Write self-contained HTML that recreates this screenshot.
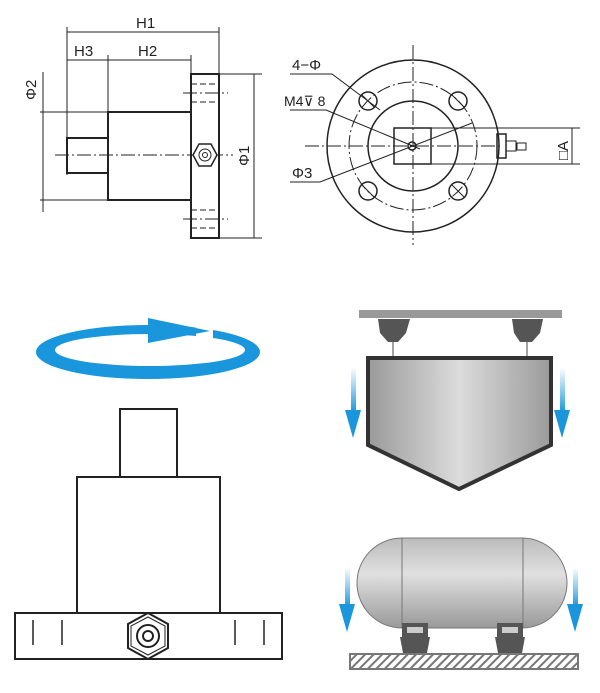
<!DOCTYPE html><html><head><style>body{margin:0;background:#fff}</style></head><body>
<svg width="600" height="688" viewBox="0 0 600 688" xmlns="http://www.w3.org/2000/svg" font-family="Liberation Sans, sans-serif">
<defs>
<linearGradient id="g" x1="0" x2="1"><stop offset="0" stop-color="#9a9a9a"/><stop offset="0.5" stop-color="#dcdcdc"/><stop offset="1" stop-color="#9a9a9a"/></linearGradient>
<linearGradient id="gt" x1="0" y1="0" x2="0" y2="1"><stop offset="0" stop-color="#bbb"/><stop offset="0.4" stop-color="#e0e0e0"/><stop offset="1" stop-color="#999"/></linearGradient>
<linearGradient id="ab" x1="0" y1="0" x2="0" y2="1"><stop offset="0" stop-color="#2aa0e0" stop-opacity="0"/><stop offset="1" stop-color="#1a96dc"/></linearGradient>
<pattern id="h" width="6" height="6" patternUnits="userSpaceOnUse" patternTransform="rotate(45)"><rect width="6" height="6" fill="#fff"/><rect width="2" height="6" fill="#777"/></pattern>
</defs>
<g stroke="#222" fill="none" stroke-width="1">
<line x1="67" y1="27" x2="67" y2="175"/><line x1="219" y1="27" x2="219" y2="74"/><line x1="108" y1="55" x2="108" y2="112"/><line x1="191" y1="55" x2="191" y2="74"/>
<line x1="67" y1="32" x2="219" y2="32"/><line x1="67" y1="60" x2="191" y2="60"/>
<rect x="191" y="74" width="28" height="164" stroke-width="2"/>
<rect x="108" y="112" width="83" height="88" stroke-width="2"/>
<rect x="67" y="138" width="41" height="35" stroke-width="2"/>
<line x1="55" y1="155" x2="233" y2="155" stroke-dasharray="14,3,2,3"/>
<line x1="183" y1="93" x2="228" y2="93" stroke-dasharray="14,3,2,3"/><line x1="183" y1="219" x2="228" y2="219" stroke-dasharray="14,3,2,3"/>
<line x1="191" y1="84" x2="219" y2="84" stroke-dasharray="6,3"/><line x1="191" y1="102" x2="219" y2="102" stroke-dasharray="6,3"/>
<line x1="191" y1="210" x2="219" y2="210" stroke-dasharray="6,3"/><line x1="191" y1="228" x2="219" y2="228" stroke-dasharray="6,3"/>
<polygon points="199,144 211,144 217,155 211,166 199,166 193,155" stroke-width="1.5" fill="#fff"/><circle cx="205" cy="155" r="6"/><circle cx="205" cy="155" r="2.5"/>
<line x1="219" y1="74" x2="262" y2="74"/><line x1="219" y1="238" x2="262" y2="238"/><line x1="254" y1="74" x2="254" y2="238"/>
<line x1="40" y1="112" x2="108" y2="112"/><line x1="40" y1="200" x2="108" y2="200"/><line x1="43" y1="72" x2="43" y2="212"/>
<line x1="413" y1="45" x2="413" y2="245" stroke-dasharray="14,3,2,3"/><line x1="305" y1="146" x2="500" y2="146" stroke-dasharray="14,3,2,3"/>
<circle cx="413" cy="146" r="86" stroke-width="1.5"/><circle cx="413" cy="146" r="64" stroke-dasharray="14,3,2,3"/><circle cx="413" cy="146" r="45" stroke-width="1.5"/>
<rect x="394" y="128" width="37" height="36" stroke-width="1.5"/><circle cx="412" cy="146" r="4" stroke-width="1.5"/>
<circle cx="368" cy="101" r="9" stroke-width="1.5"/><circle cx="458" cy="101" r="9" stroke-width="1.5"/><circle cx="368" cy="191" r="9" stroke-width="1.5"/><circle cx="458" cy="191" r="9" stroke-width="1.5"/>
<line x1="362" y1="95" x2="374" y2="107"/><line x1="452" y1="95" x2="464" y2="107"/><line x1="362" y1="185" x2="374" y2="197"/><line x1="452" y1="185" x2="464" y2="197"/>
<rect x="497" y="134" width="9" height="24" stroke-width="1.5"/><rect x="506" y="141" width="10" height="10"/><rect x="517" y="143" width="9" height="7"/>
<line x1="413" y1="128" x2="580" y2="128"/><line x1="413" y1="164" x2="580" y2="164"/><line x1="572" y1="128" x2="572" y2="164"/>
<polyline points="290,74 332,74 380,110"/><polyline points="290,110 326,110 420,149"/><polyline points="290,182 320,182 472,123"/>
</g>
<g font-size="15" fill="#222">
<text x="136" y="28">H1</text><text x="74" y="56">H3</text><text x="138" y="56">H2</text>
<text transform="translate(36,100) rotate(-90)">Φ2</text><text transform="translate(249,166) rotate(-90)">Φ1</text>
<text x="292" y="70">4−Φ</text><text x="284" y="106" font-size="14">M4⊽ 8</text><text x="292" y="178">Φ3</text>
<text transform="translate(568,160) rotate(-90)">□A</text>
</g>
<path fill-rule="evenodd" fill="#1a96dc" d="M36,352 a112,27 0 1 0 224,0 a112,27 0 1 0 -224,0 Z M55,350 a95,16 0 1 0 190,0 a95,16 0 1 0 -190,0 Z"/>
<polygon points="196,320 213,320 213,338 196,338" fill="#fff"/>
<polygon points="148,318 210,331 148,343" fill="#1a96dc"/>
<g stroke="#222" fill="none" stroke-width="2">
<rect x="120" y="409" width="57" height="68"/><rect x="77" y="477" width="143" height="136"/><rect x="15" y="613" width="267" height="46"/>
<g stroke-width="1.5"><line x1="33" y1="620" x2="33" y2="645"/><line x1="62" y1="620" x2="62" y2="645"/><line x1="235" y1="620" x2="235" y2="645"/><line x1="264" y1="620" x2="264" y2="645"/></g>
<polygon points="148,613 168,624 168,648 148,659 128,648 128,624" fill="#fff"/><polygon points="148,617 165,626 165,646 148,655 131,646 131,626" stroke-width="1"/><circle cx="148" cy="636" r="11"/><circle cx="148" cy="636" r="5"/>
</g>
<rect x="359" y="310" width="203" height="8" fill="#999"/>
<polygon points="378,319 410,319 406,333 398,342 388,342 380,333" fill="#555"/><polygon points="512,319 543,319 540,333 532,342 520,342 514,333" fill="#555"/>
<line x1="393" y1="342" x2="393" y2="357" stroke="#444"/><line x1="527" y1="342" x2="527" y2="357" stroke="#444"/>
<polygon points="368,358 551,358 551,445 459,489 368,445" fill="url(#g)" stroke="#333" stroke-width="4"/>
<rect x="351" y="367" width="5" height="45" fill="url(#ab)"/><polygon points="345,410 361,410 353,438" fill="#1a96dc"/>
<rect x="560" y="367" width="5" height="45" fill="url(#ab)"/><polygon points="554,410 570,410 562,438" fill="#1a96dc"/>
<rect x="357" y="538" width="210" height="90" rx="45" fill="url(#gt)" stroke="#777"/>
<line x1="402" y1="538" x2="402" y2="628" stroke="#777"/><line x1="523" y1="538" x2="523" y2="628" stroke="#777"/>
<rect x="402" y="623" width="26" height="14" fill="#555"/><rect x="407" y="627" width="16" height="6" fill="#ccc"/><polygon points="400,637 430,637 427,653 403,653" fill="#555"/>
<rect x="497" y="623" width="26" height="14" fill="#555"/><rect x="502" y="627" width="16" height="6" fill="#ccc"/><polygon points="495,637 525,637 522,653 498,653" fill="#555"/>
<rect x="350" y="654" width="228" height="15" fill="url(#h)" stroke="#777" stroke-width="2"/>
<rect x="345" y="567" width="5" height="40" fill="url(#ab)"/><polygon points="339,604 355,604 347,632" fill="#1a96dc"/>
<rect x="573" y="567" width="5" height="40" fill="url(#ab)"/><polygon points="567,604 583,604 575,632" fill="#1a96dc"/>
</svg>
</body></html>
